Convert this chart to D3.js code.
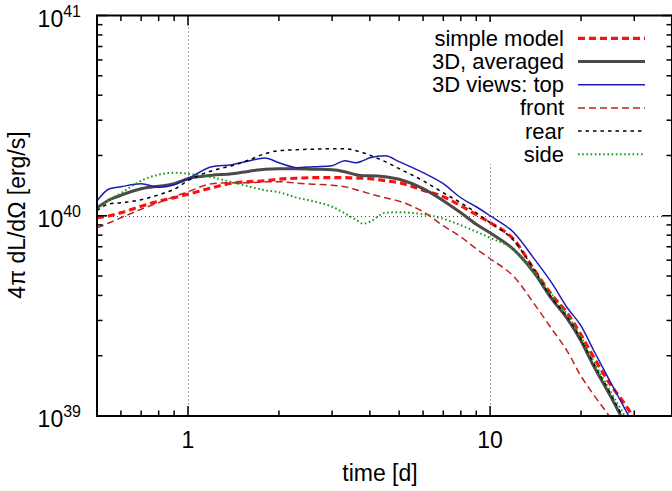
<!DOCTYPE html>
<html>
<head>
<meta charset="utf-8">
<script src="https://cdn.jsdelivr.net/npm/d3@7/dist/d3.min.js"></script>
<style>
  body { margin: 0; background: #fff; }
  text { font-family: "Liberation Sans", Arial, Helvetica, sans-serif; fill: #000; }
</style>
</head>
<body>
<div id="container"></div>
<script>
// time in days, luminosities in units of 10^40 erg/s
const time = [0.5, 0.55, 0.6, 0.7, 0.8, 0.9, 1.0, 1.2, 1.4, 1.6, 1.8, 2.0, 2.3, 2.6, 3.0, 3.3, 3.6, 3.8, 4.0, 4.5, 5, 6, 7, 8, 9, 10, 12, 14, 16, 18, 20, 22, 25, 28, 30];

const simpleModel = [0.977, 1.0, 1.035, 1.116, 1.182, 1.230, 1.281, 1.380, 1.454, 1.479, 1.496, 1.522, 1.540, 1.549, 1.549, 1.549, 1.540, 1.540, 1.531, 1.496, 1.462, 1.341, 1.245, 1.122, 1.012, 0.923, 0.759, 0.537, 0.403, 0.327, 0.254, 0.197, 0.144, 0.114, 0.097];
const averaged = [1.096, 1.202, 1.266, 1.365, 1.404, 1.445, 1.531, 1.594, 1.622, 1.670, 1.708, 1.718, 1.718, 1.708, 1.698, 1.660, 1.603, 1.585, 1.585, 1.567, 1.522, 1.365, 1.189, 1.035, 0.907, 0.822, 0.676, 0.519, 0.384, 0.306, 0.237, 0.178, 0.126, 0.091, 0.075];
const viewTop = [1.189, 1.365, 1.397, 1.445, 1.388, 1.428, 1.531, 1.758, 1.799, 1.884, 1.940, 1.840, 1.738, 1.758, 1.778, 1.884, 1.840, 1.884, 1.950, 1.995, 1.862, 1.641, 1.445, 1.230, 1.109, 1.0, 0.822, 0.609, 0.462, 0.347, 0.282, 0.213, 0.148, 0.108, 0.089];
const viewFront = [0.871, 0.923, 0.977, 1.078, 1.161, 1.245, 1.318, 1.445, 1.462, 1.462, 1.479, 1.479, 1.454, 1.437, 1.420, 1.397, 1.349, 1.318, 1.288, 1.230, 1.182, 1.047, 0.891, 0.785, 0.684, 0.610, 0.496, 0.363, 0.272, 0.211, 0.158, 0.128, 0.098, 0.075, 0.063];
const viewRear = [1.059, 1.148, 1.161, 1.202, 1.273, 1.357, 1.496, 1.679, 1.778, 1.905, 2.042, 2.113, 2.138, 2.150, 2.163, 2.163, 2.113, 2.065, 2.006, 1.862, 1.718, 1.496, 1.303, 1.161, 1.035, 0.923, 0.750, 0.537, 0.389, 0.313, 0.242, 0.184, 0.130, 0.094, 0.078];
const viewSide = [1.084, 1.202, 1.296, 1.496, 1.603, 1.641, 1.622, 1.558, 1.471, 1.397, 1.341, 1.311, 1.230, 1.182, 1.109, 1.029, 0.955, 0.912, 0.933, 1.035, 1.041, 1.017, 0.966, 0.897, 0.832, 0.776, 0.676, 0.524, 0.403, 0.320, 0.248, 0.188, 0.133, 0.099, 0.082];

const seriesNames = ["simple model", "3D, averaged", "3D views: top", "front", "rear", "side"];
const seriesValues = [simpleModel, averaged, viewTop, viewFront, viewRear, viewSide];

const xTickLabels = [1, 10];
const yTickExponents = [39, 40, 41];

const styles = [
    {color: "#ff1010", width: 3.2, dash: "7,4"},
    {color: "#4a4a4a", width: 3, dash: null},
    {color: "#1c1cb4", width: 1.5, dash: null},
    {color: "#bb2222", width: 1.5, dash: "7,4"},
    {color: "#000000", width: 1.5, dash: "3.5,4"},
    {color: "#1a9a1a", width: 2, dash: "1.6,2.6"}
];

const W = 672, H = 491;
const margin = {left: 97, top: 15.5, right: 672, bottom: 416};
const fontSize = 23;

const svg = d3.select("#container").append("svg")
    .attr("width", W)
    .attr("height", H);

const x = d3.scaleLog().domain([0.5, 40]).range([margin.left, margin.right]);
const y = d3.scaleLog().domain([1e39, 1e41]).range([margin.bottom, margin.top]);

svg.append("clipPath").attr("id", "plotclip")
    .append("rect")
    .attr("x", margin.left).attr("y", margin.top)
    .attr("width", margin.right - margin.left)
    .attr("height", margin.bottom - margin.top);

// grid at major ticks
const grid = svg.append("g")
    .attr("stroke", "#444")
    .attr("stroke-width", 1)
    .attr("stroke-dasharray", "1,3");
grid.selectAll(".vgrid")
    .data(xTickLabels)
    .enter().append("line")
    .attr("x1", function(d) { return Math.round(x(d)) + 0.5; })
    .attr("x2", function(d) { return Math.round(x(d)) + 0.5; })
    .attr("y1", margin.top)
    .attr("y2", margin.bottom);
grid.append("line")
    .attr("x1", margin.left).attr("x2", margin.right - 10)
    .attr("y1", Math.round(y(1e40)) + 0.5)
    .attr("y2", Math.round(y(1e40)) + 0.5);

// curves
const line = d3.line()
    .x(function(d) { return x(d[0]); })
    .y(function(d) { return y(d[1] * 1e40); })
    .curve(d3.curveMonotoneX);

const curves = svg.append("g").attr("clip-path", "url(#plotclip)");
seriesValues.forEach(function(vals, i) {
    const pts = time.map(function(t, j) { return [t, vals[j]]; });
    curves.append("path")
        .attr("d", line(pts))
        .attr("fill", "none")
        .attr("stroke", styles[i].color)
        .attr("stroke-width", styles[i].width)
        .attr("stroke-dasharray", styles[i].dash)
        .attr("stroke-linejoin", "round");
});

// ticks (mirrored on all sides)
const xMinor = [0.6, 0.7, 0.8, 0.9, 2, 3, 4, 5, 6, 7, 8, 9, 20, 30];
const yMinor = [];
[1e39, 1e40].forEach(function(base) {
    for (let k = 2; k <= 9; k++) yMinor.push(k * base);
});
const ticks = svg.append("g").attr("stroke", "#000").attr("stroke-width", 1.5);
function xTick(v, len) {
    ticks.append("line").attr("x1", x(v)).attr("x2", x(v)).attr("y1", margin.bottom).attr("y2", margin.bottom - len);
    ticks.append("line").attr("x1", x(v)).attr("x2", x(v)).attr("y1", margin.top).attr("y2", margin.top + len);
}
function yTick(v, len) {
    ticks.append("line").attr("x1", margin.left).attr("x2", margin.left + len).attr("y1", y(v)).attr("y2", y(v));
    ticks.append("line").attr("x1", margin.right).attr("x2", margin.right - len).attr("y1", y(v)).attr("y2", y(v));
}
xMinor.forEach(function(v) { xTick(v, 5.5); });
xTickLabels.forEach(function(v) { xTick(v, 10); });
yMinor.forEach(function(v) { yTick(v, 5.5); });
yTickExponents.forEach(function(e) { yTick(Math.pow(10, e), 10); });

// border
svg.append("rect")
    .attr("x", margin.left).attr("y", margin.top)
    .attr("width", margin.right - margin.left)
    .attr("height", margin.bottom - margin.top)
    .attr("fill", "none")
    .attr("stroke", "#000")
    .attr("stroke-width", 2);

// tick labels
svg.selectAll(".xlab")
    .data(xTickLabels)
    .enter().append("text")
    .attr("x", function(d) { return x(d); })
    .attr("y", 448)
    .attr("text-anchor", "middle")
    .attr("font-size", fontSize)
    .text(function(d) { return d; });

const ylab = svg.selectAll(".ylab")
    .data(yTickExponents)
    .enter().append("text")
    .attr("x", 81)
    .attr("y", function(d) { return y(Math.pow(10, d)) + 11; })
    .attr("text-anchor", "end")
    .attr("font-size", fontSize);
ylab.append("tspan").text("10");
ylab.append("tspan")
    .attr("font-size", 16)
    .attr("dy", -10)
    .text(function(d) { return d; });

// axis titles
svg.append("text")
    .attr("x", 380)
    .attr("y", 481)
    .attr("text-anchor", "middle")
    .attr("font-size", fontSize)
    .text("time [d]");

svg.append("text")
    .attr("transform", "translate(25,215) rotate(-90)")
    .attr("text-anchor", "middle")
    .attr("font-size", fontSize)
    .text("4π dL/dΩ [erg/s]");

// key (opaque)
svg.append("rect")
    .attr("x", 422).attr("y", 22)
    .attr("width", 242).attr("height", 142)
    .attr("fill", "#fff");

const key = svg.append("g");
seriesNames.forEach(function(name, i) {
    const cy = 38.3 + i * 23.2;
    key.append("text")
        .attr("x", 564)
        .attr("y", cy + 7.5)
        .attr("text-anchor", "end")
        .attr("font-size", 22)
        .text(name);
    key.append("line")
        .attr("x1", 578).attr("x2", 645)
        .attr("y1", cy).attr("y2", cy)
        .attr("stroke", styles[i].color)
        .attr("stroke-width", styles[i].width)
        .attr("stroke-dasharray", styles[i].dash);
});
</script>
</body>
</html>
